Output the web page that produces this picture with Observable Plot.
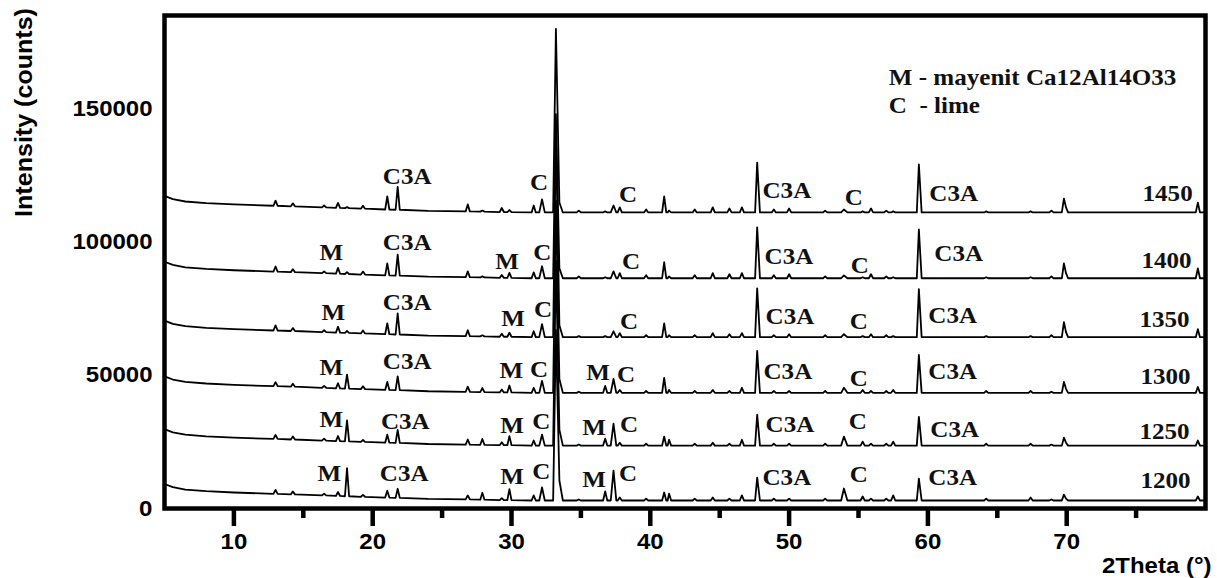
<!DOCTYPE html>
<html>
<head>
<meta charset="utf-8">
<script src="https://cdn.jsdelivr.net/npm/d3@7"></script>
<script src="https://cdn.jsdelivr.net/npm/@observablehq/plot@0.6"></script>
<style>
  html, body { margin: 0; padding: 0; background: #fff; }
  #chart svg { display: block; }
</style>
</head>
<body>
<div id="chart"></div>
<script>
// ---- sample temperatures (series) ----
const temps = ["1200", "1250", "1300", "1350", "1400", "1450"];

// ---- 2Theta positions (degrees) at which the patterns were read ----
const twoTheta = [
  5.0, 5.6, 6.5, 8.0, 10.0,
  12.85, 13.0, 13.15,
  14.1, 14.25, 14.4,
  16.35, 16.5, 16.65,
  17.35, 17.5, 17.65,
  18.0, 18.15, 18.3,
  19.15, 19.3, 19.45,
  20.9, 21.05, 21.2,
  21.65, 21.8, 21.95,
  24.0,
  26.7, 26.85, 27.0,
  27.75, 27.9, 28.05,
  29.15, 29.3, 29.45,
  29.7, 29.85, 30.0,
  31.45, 31.6, 31.75,
  32.0, 32.2, 32.4,
  33.0, 33.2, 33.45, 33.7,
  34.7, 34.85, 35.0,
  36.6, 36.75, 36.9,
  37.15, 37.35, 37.55,
  37.65, 37.8, 37.95,
  39.55, 39.7, 39.85,
  40.85, 41.0, 41.15,
  41.25, 41.35, 41.5,
  43.05, 43.2, 43.35,
  44.35, 44.5, 44.65,
  45.55, 45.7, 45.85,
  46.45, 46.6, 46.75,
  47.55, 47.7, 47.9,
  48.75, 48.9, 49.05,
  49.85, 50.0, 50.15,
  52.45, 52.6, 52.75,
  53.75, 53.95, 54.2,
  55.15, 55.3, 55.45,
  55.75, 55.9, 56.05,
  56.85, 57.0, 57.15,
  57.35, 57.5, 57.65,
  59.2, 59.35, 59.55,
  64.05, 64.2, 64.35,
  67.25, 67.4, 67.55,
  68.75, 68.9, 69.05,
  69.65, 69.8, 69.95, 70.1,
  79.3, 79.45, 79.6,
  80.0
];

// ---- intensities (counts), one array per sample, same order as twoTheta ----
const i1450 = [
  117300, 116100, 115200, 114600, 114100,
  113600, 115500, 113600,
  113400, 114500, 113400,
  113000, 113700, 113000,
  112800, 114700, 112800,
  112700, 113100, 112700,
  112500, 113600, 112500,
  112200, 117100, 112200,
  112100, 120700, 112100,
  111700,
  111500, 114100, 111500,
  111400, 111800, 111400,
  111250, 112750, 111250,
  111250, 112000, 111250,
  111100, 113700, 111100,
  111100, 116000, 111100,
  111100, 180000, 114800, 111100,
  111100, 111800, 111100,
  111100, 111500, 111100,
  111100, 113700, 111100,
  111100, 113000, 111100,
  111100, 112200, 111100,
  111100, 117100, 111100,
  111100, 111800, 111100,
  111100, 112200, 111100,
  111100, 113000, 111100,
  111100, 112600, 111100,
  111100, 113000, 111100,
  111100, 129800, 111100,
  111100, 112200, 111100,
  111100, 112600, 111100,
  111100, 111800, 111100,
  111100, 112200, 111100,
  111100, 111500, 111100,
  111100, 112600, 111100,
  111100, 111800, 111100,
  111100, 111500, 111100,
  111100, 129100, 111100,
  111100, 111500, 111100,
  111100, 111500, 111100,
  111100, 111800, 111100,
  111100, 116300, 113000, 111100,
  111100, 114800, 111100,
  111100
];
const i1400 = [
  92600, 91400, 90500, 89900, 89400,
  88900, 90800, 88900,
  88700, 89800, 88700,
  88300, 89000, 88300,
  88100, 90300, 88100,
  88000, 88700, 88000,
  87800, 88900, 87800,
  87500, 92000, 87500,
  87400, 95300, 87400,
  87000,
  86800, 89000, 86800,
  86700, 87100, 86700,
  86550, 87650, 86550,
  86550, 88400, 86550,
  86400, 88600, 86400,
  86400, 90900, 86400,
  86400, 148000, 90100, 86400,
  86400, 87100, 86400,
  86400, 86800, 86400,
  86400, 89000, 86400,
  86400, 88300, 86400,
  86400, 87500, 86400,
  86400, 92400, 86400,
  86400, 87100, 86400,
  86400, 87500, 86400,
  86400, 88300, 86400,
  86400, 87900, 86400,
  86400, 88300, 86400,
  86400, 105500, 86400,
  86400, 87500, 86400,
  86400, 87900, 86400,
  86400, 87100, 86400,
  86400, 87500, 86400,
  86400, 86800, 86400,
  86400, 87900, 86400,
  86400, 87100, 86400,
  86400, 86800, 86400,
  86400, 104700, 86400,
  86400, 86800, 86400,
  86400, 86800, 86400,
  86400, 87100, 86400,
  86400, 92000, 88300, 86400,
  86400, 90100, 86400,
  86400
];
const i1350 = [
  70500, 69300, 68400, 67800, 67300,
  66800, 68700, 66800,
  66600, 67700, 66600,
  66200, 66900, 66200,
  66000, 68200, 66000,
  65900, 66600, 65900,
  65700, 66800, 65700,
  65400, 69500, 65400,
  65300, 73200, 65300,
  64900,
  64700, 66900, 64700,
  64600, 65000, 64600,
  64450, 65550, 64450,
  64450, 65950, 64450,
  64300, 66500, 64300,
  64300, 69200, 64300,
  64300, 141800, 68800, 64300,
  64300, 64700, 64300,
  64300, 64700, 64300,
  64300, 66500, 64300,
  64300, 65800, 64300,
  64300, 65000, 64300,
  64300, 69500, 64300,
  64300, 65000, 64300,
  64300, 65000, 64300,
  64300, 65800, 64300,
  64300, 65400, 64300,
  64300, 65800, 64300,
  64300, 82600, 64300,
  64300, 65000, 64300,
  64300, 65400, 64300,
  64300, 65000, 64300,
  64300, 65400, 64300,
  64300, 64700, 64300,
  64300, 65400, 64300,
  64300, 65000, 64300,
  64300, 64700, 64300,
  64300, 82300, 64300,
  64300, 64700, 64300,
  64300, 64700, 64300,
  64300, 65000, 64300,
  64300, 69900, 66200, 64300,
  64300, 67300, 64300,
  64300
];
const i1300 = [
  49600, 48400, 47500, 46900, 46400,
  45900, 47400, 45900,
  45700, 46800, 45700,
  45300, 46000, 45300,
  45100, 47000, 45100,
  45000, 50200, 45000,
  44800, 45900, 44800,
  44500, 47500, 44500,
  44400, 49600, 44400,
  44000,
  43800, 45700, 43800,
  43700, 45200, 43700,
  43550, 44650, 43550,
  43550, 46150, 43550,
  43400, 45300, 43400,
  43400, 47900, 43400,
  43400, 115600, 48600, 43400,
  43400, 43800, 43400,
  43400, 46000, 43400,
  43400, 48600, 43400,
  43400, 44500, 43400,
  43400, 44100, 43400,
  43400, 49000, 43400,
  43400, 44500, 43400,
  43400, 44100, 43400,
  43400, 44500, 43400,
  43400, 44100, 43400,
  43400, 45300, 43400,
  43400, 59100, 43400,
  43400, 44100, 43400,
  43400, 44100, 43400,
  43400, 44100, 43400,
  43400, 45300, 43400,
  43400, 44500, 43400,
  43400, 44100, 43400,
  43400, 44100, 43400,
  43400, 44500, 43400,
  43400, 57600, 43400,
  43400, 44100, 43400,
  43400, 44100, 43400,
  43400, 43800, 43400,
  43400, 47500, 44900, 43400,
  43400, 45600, 43400,
  43400
];
const i1250 = [
  29800, 28600, 27700, 27100, 26600,
  26100, 27600, 26100,
  25900, 27000, 25900,
  25500, 26200, 25500,
  25300, 27200, 25300,
  25200, 33100, 25200,
  25000, 25700, 25000,
  24700, 27700, 24700,
  24600, 29500, 24600,
  24200,
  24000, 25900, 24000,
  23900, 26100, 23900,
  23750, 24850, 23750,
  23750, 27150, 23750,
  23600, 25500, 23600,
  23600, 27700, 23600,
  23600, 93000, 29600, 23600,
  23600, 24000, 23600,
  23600, 26200, 23600,
  23600, 31800, 23600,
  23600, 24700, 23600,
  23600, 24300, 23600,
  23600, 27000, 23600,
  23600, 25800, 23600,
  23600, 24300, 23600,
  23600, 24700, 23600,
  23600, 24300, 23600,
  23600, 25800, 23600,
  23600, 35200, 23600,
  23600, 24300, 23600,
  23600, 24300, 23600,
  23600, 24300, 23600,
  23600, 27000, 23600,
  23600, 25100, 23600,
  23600, 24300, 23600,
  23600, 24300, 23600,
  23600, 25100, 23600,
  23600, 34400, 23600,
  23600, 24300, 23600,
  23600, 24300, 23600,
  23600, 24000, 23600,
  23600, 26600, 24700, 23600,
  23600, 25500, 23600,
  23600
];
const i1200 = [
  9200, 8000, 7100, 6500, 6000,
  5500, 7000, 5500,
  5300, 6400, 5300,
  4900, 5600, 4900,
  4700, 6200, 4700,
  4600, 15100, 4600,
  4400, 5100, 4400,
  4100, 6700, 4100,
  4000, 7400, 4000,
  3600,
  3400, 4900, 3400,
  3300, 5900, 3300,
  3150, 3900, 3150,
  3150, 7250, 3150,
  3000, 4900, 3000,
  3000, 7900, 3000,
  3000, 67000, 10500, 3000,
  3000, 3400, 3000,
  3000, 6400, 3000,
  3000, 14200, 3000,
  3000, 4100, 3000,
  3000, 3700, 3000,
  3000, 6000, 3000,
  3000, 5600, 3000,
  3000, 3700, 3000,
  3000, 4100, 3000,
  3000, 3700, 3000,
  3000, 4900, 3000,
  3000, 11600, 3000,
  3000, 3700, 3000,
  3000, 3700, 3000,
  3000, 3700, 3000,
  3000, 7500, 3000,
  3000, 4500, 3000,
  3000, 3700, 3000,
  3000, 3700, 3000,
  3000, 4900, 3000,
  3000, 11200, 3000,
  3000, 3700, 3000,
  3000, 4100, 3000,
  3000, 3400, 3000,
  3000, 5200, 3700, 3000,
  3000, 4500, 3000,
  3000
];

// ---- axis ticks and titles ----
const xMajorTicks = [10, 20, 30, 40, 50, 60, 70];
const xMinorTicks = [15, 25, 35, 45, 55, 65, 75];
const yTicks = [0, 50000, 100000, 150000];
const xTitle = "2Theta (°)";
const yTitle = "Intensity (counts)";

// ---- phase annotations (label, 2Theta, counts) ----
const annText = [
  "C3A", "C", "C", "C3A", "C", "C3A", "1450",
  "M", "C3A", "M", "C", "C", "C3A", "C", "C3A", "1400",
  "M", "C3A", "M", "C", "C", "C3A", "C", "C3A", "1350",
  "M", "C3A", "M", "C", "M", "C", "C3A", "C", "C3A", "1300",
  "M", "C3A", "M", "C", "M", "C", "C3A", "C", "C3A", "1250",
  "M", "C3A", "M", "C", "M", "C", "C3A", "C", "C3A", "1200"
];
const annTheta = [
  22.49, 31.99, 38.40, 49.84, 54.67, 61.86, 77.27,
  17.02, 22.49, 29.69, 32.21, 38.61, 49.99, 55.10, 62.22, 77.19,
  17.16, 22.49, 30.12, 32.28, 38.47, 50.06, 55.03, 61.79, 77.05,
  17.02, 22.49, 29.98, 31.99, 36.24, 38.25, 49.91, 55.03, 61.79, 77.12,
  17.02, 22.35, 30.05, 32.14, 35.95, 38.47, 50.06, 54.95, 61.93, 77.05,
  16.88, 22.27, 30.05, 32.14, 35.95, 38.40, 49.84, 55.03, 61.79, 77.12
];
const annCounts = [
  124700, 122100, 117600, 119100, 116800, 118000, 118300,
  96200, 99600, 92500, 96200, 92500, 94400, 91000, 95500, 92900,
  73400, 77100, 71200, 74500, 70000, 71900, 70000, 72300, 70800,
  52800, 55100, 51700, 52100, 50900, 50200, 51300, 48700, 51300, 49400,
  33300, 32600, 31100, 32600, 30300, 31500, 31500, 32600, 29600, 28800,
  13100, 13100, 12000, 13900, 10900, 13100, 11600, 12700, 11600, 10500
];

// ---- legend (phase key) ----
const legendText = ["M - mayenit Ca12Al14O33", "C\u00a0\u00a0- lime"];
const legendTheta = [57.18, 57.18];
const legendCounts = [161800, 151300];

// ---- build tables ----
const seriesValues = {"1200": i1200, "1250": i1250, "1300": i1300, "1350": i1350, "1400": i1400, "1450": i1450};
const rows = [];
for (const t of temps) {
  const v = seriesValues[t];
  if (v.length !== twoTheta.length) throw new Error("length mismatch " + t + " " + v.length + " vs " + twoTheta.length);
  twoTheta.forEach((x, i) => rows.push({temp: t, theta: x, counts: v[i]}));
}
const annRows = annText.map((s, i) => ({label: s, theta: annTheta[i], counts: annCounts[i]}));
const legendRows = legendText.map((s, i) => ({label: s, theta: legendTheta[i], counts: legendCounts[i]}));

const serif = "'Liberation Serif', 'Times New Roman', serif";
const sans = "'Liberation Sans', Arial, sans-serif";

const chart = Plot.plot({
  width: 1217,
  height: 578,
  marginLeft: 164,
  marginRight: 12,
  marginTop: 15,
  marginBottom: 70,
  style: {fontFamily: sans, fontSize: "22px", fontWeight: "bold", color: "#000", background: "#fff"},
  x: {domain: [5, 80]},
  y: {domain: [0, 185000]},
  marks: [
    Plot.line(rows, {x: "theta", y: "counts", z: "temp", stroke: "#000", strokeWidth: 1.8}),
    Plot.text(annRows, {x: "theta", y: "counts", text: "label", fontFamily: serif, fontWeight: "bold", fontSize: 23, fill: "#111", ariaLabel: "phase labels"}),
    Plot.text(legendRows, {x: "theta", y: "counts", text: "label", textAnchor: "start", fontFamily: serif, fontWeight: "bold", fontSize: 23, fill: "#111", ariaLabel: "phase key"}),
    Plot.frame({stroke: "#000", strokeWidth: 4.5}),
    Plot.axisY(yTicks, {tickSize: 0, tickPadding: 12, tickFormat: d3.format("d"), label: null, fontSize: 22, fontWeight: "bold"}),
    Plot.axisX(xMinorTicks, {tickSize: 10, strokeWidth: 4.5, tickFormat: () => "", label: null}),
    Plot.axisX(xMajorTicks, {tickSize: 18, tickPadding: 7, strokeWidth: 4.5, tickFormat: d3.format("d"), label: null, fontSize: 22, fontWeight: "bold"}),
    Plot.text([xTitle], {text: d => d, frameAnchor: "bottom-right", textAnchor: "end", lineAnchor: "middle", dx: 6, dy: 57, fontSize: 22, fontWeight: "bold", fontFamily: sans, ariaLabel: "x title"}),
    Plot.text([yTitle], {text: d => d, frameAnchor: "top-left", textAnchor: "middle", lineAnchor: "middle", rotate: -90, dx: -140, dy: 97, fontSize: 23, fontWeight: "bold", fontFamily: sans, ariaLabel: "y title"})
  ]
});
document.getElementById("chart").appendChild(chart);

// the reference's lettering is slightly wider than the installed fonts: widen glyphs a little
const stretch = 1.09;
chart.querySelectorAll("text").forEach((t) => {
  if (t.closest('[aria-label="x title"]') || t.closest('[aria-label="y title"]')) return;
  const len = t.getComputedTextLength();
  if (len > 0) {
    t.setAttribute("textLength", (len * stretch).toFixed(1));
    t.setAttribute("lengthAdjust", "spacingAndGlyphs");
  }
});
</script>
</body>
</html>
